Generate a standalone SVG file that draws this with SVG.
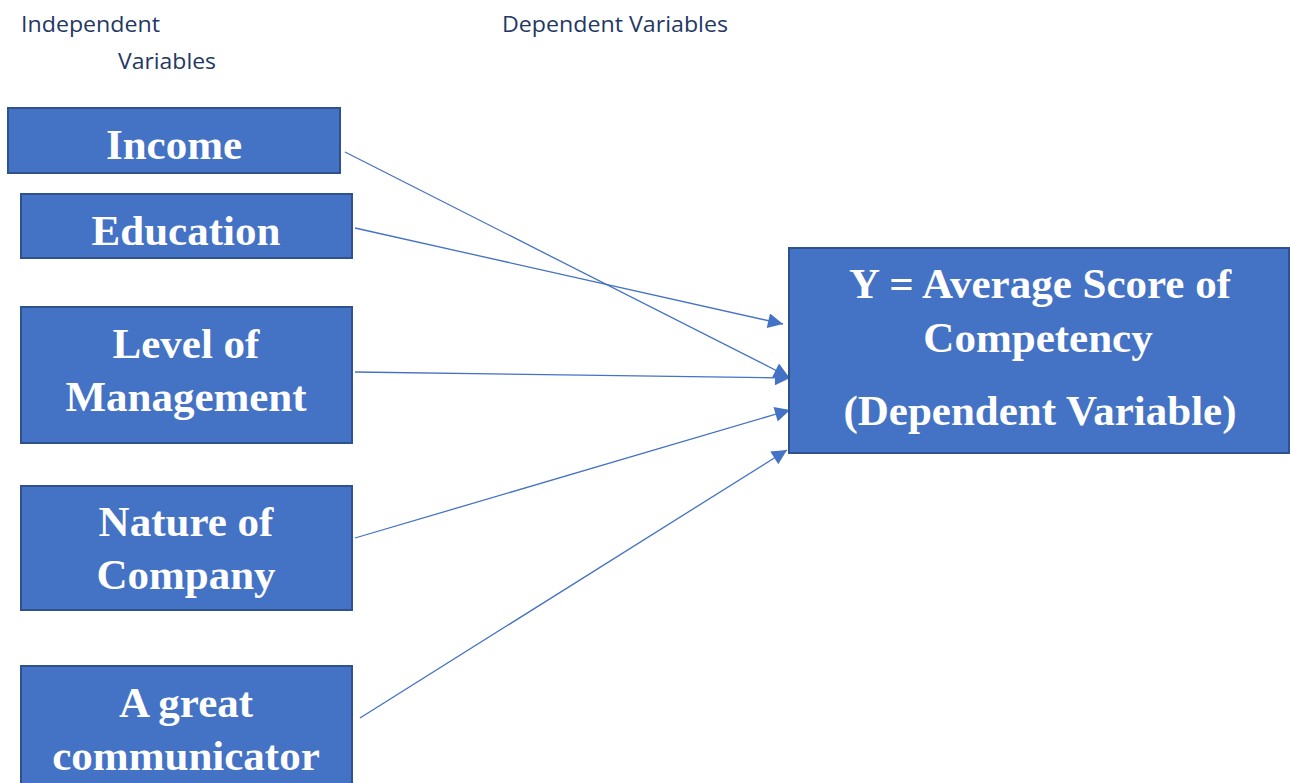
<svg xmlns="http://www.w3.org/2000/svg" width="1290" height="783" viewBox="0 0 1290 783">
<style>
.box{fill:#4472C4;stroke:#2F528F;stroke-width:2}
.t{font-family:"Liberation Serif",serif;font-weight:bold;font-size:43px;fill:#fff;text-anchor:middle}
.h{font-family:"Open Sans","Liberation Sans",sans-serif;font-size:22px;fill:#1F3864}
.c{stroke:#4472C4;stroke-width:1.3;fill:none;marker-end:url(#ah)}
</style>
<defs>
<marker id="ah" viewBox="0 0 10 10" refX="10" refY="5" markerWidth="17" markerHeight="15" markerUnits="userSpaceOnUse" orient="auto">
<path d="M0,0 L10,5 L0,10 z" fill="#4472C4"/>
</marker>
</defs>
<rect width="1290" height="783" fill="#fff"/>
<g id="headers">
<text class="h" x="21" y="32" textLength="139" lengthAdjust="spacingAndGlyphs">Independent</text>
<text class="h" x="118" y="69" textLength="98" lengthAdjust="spacingAndGlyphs">Variables</text>
<text class="h" x="502" y="32" textLength="226" lengthAdjust="spacingAndGlyphs">Dependent Variables</text>
</g>
<g id="connectors">
<line class="c" x1="345" y1="152" x2="789" y2="377"/>
<line class="c" x1="355" y1="228" x2="783" y2="324"/>
<line class="c" x1="355" y1="372" x2="790" y2="378"/>
<line class="c" x1="355" y1="538" x2="790" y2="410"/>
<line class="c" x1="360" y1="718" x2="787" y2="450"/>
</g>
<g id="income">
<rect class="box" x="8" y="108" width="332" height="65"/>
<text class="t" x="174" y="159">Income</text>
</g>
<g id="education">
<rect class="box" x="21" y="194" width="331" height="64"/>
<text class="t" x="186" y="245">Education</text>
</g>
<g id="level">
<rect class="box" x="21" y="307" width="331" height="136"/>
<text class="t" x="186" y="358">Level of</text>
<text class="t" x="186" y="411">Management</text>
</g>
<g id="nature">
<rect class="box" x="21" y="486" width="331" height="124"/>
<text class="t" x="186" y="536">Nature of</text>
<text class="t" x="186" y="589">Company</text>
</g>
<g id="communicator">
<rect class="box" x="21" y="666" width="331" height="130"/>
<text class="t" x="186" y="717">A great</text>
<text class="t" x="186" y="770">communicator</text>
</g>
<g id="dependent">
<rect class="box" x="789" y="248" width="500" height="205"/>
<text class="t" x="1040" y="298">Y = Average Score of</text>
<text class="t" x="1038" y="352">Competency</text>
<text class="t" x="1040" y="425">(Dependent Variable)</text>
</g>
</svg>
